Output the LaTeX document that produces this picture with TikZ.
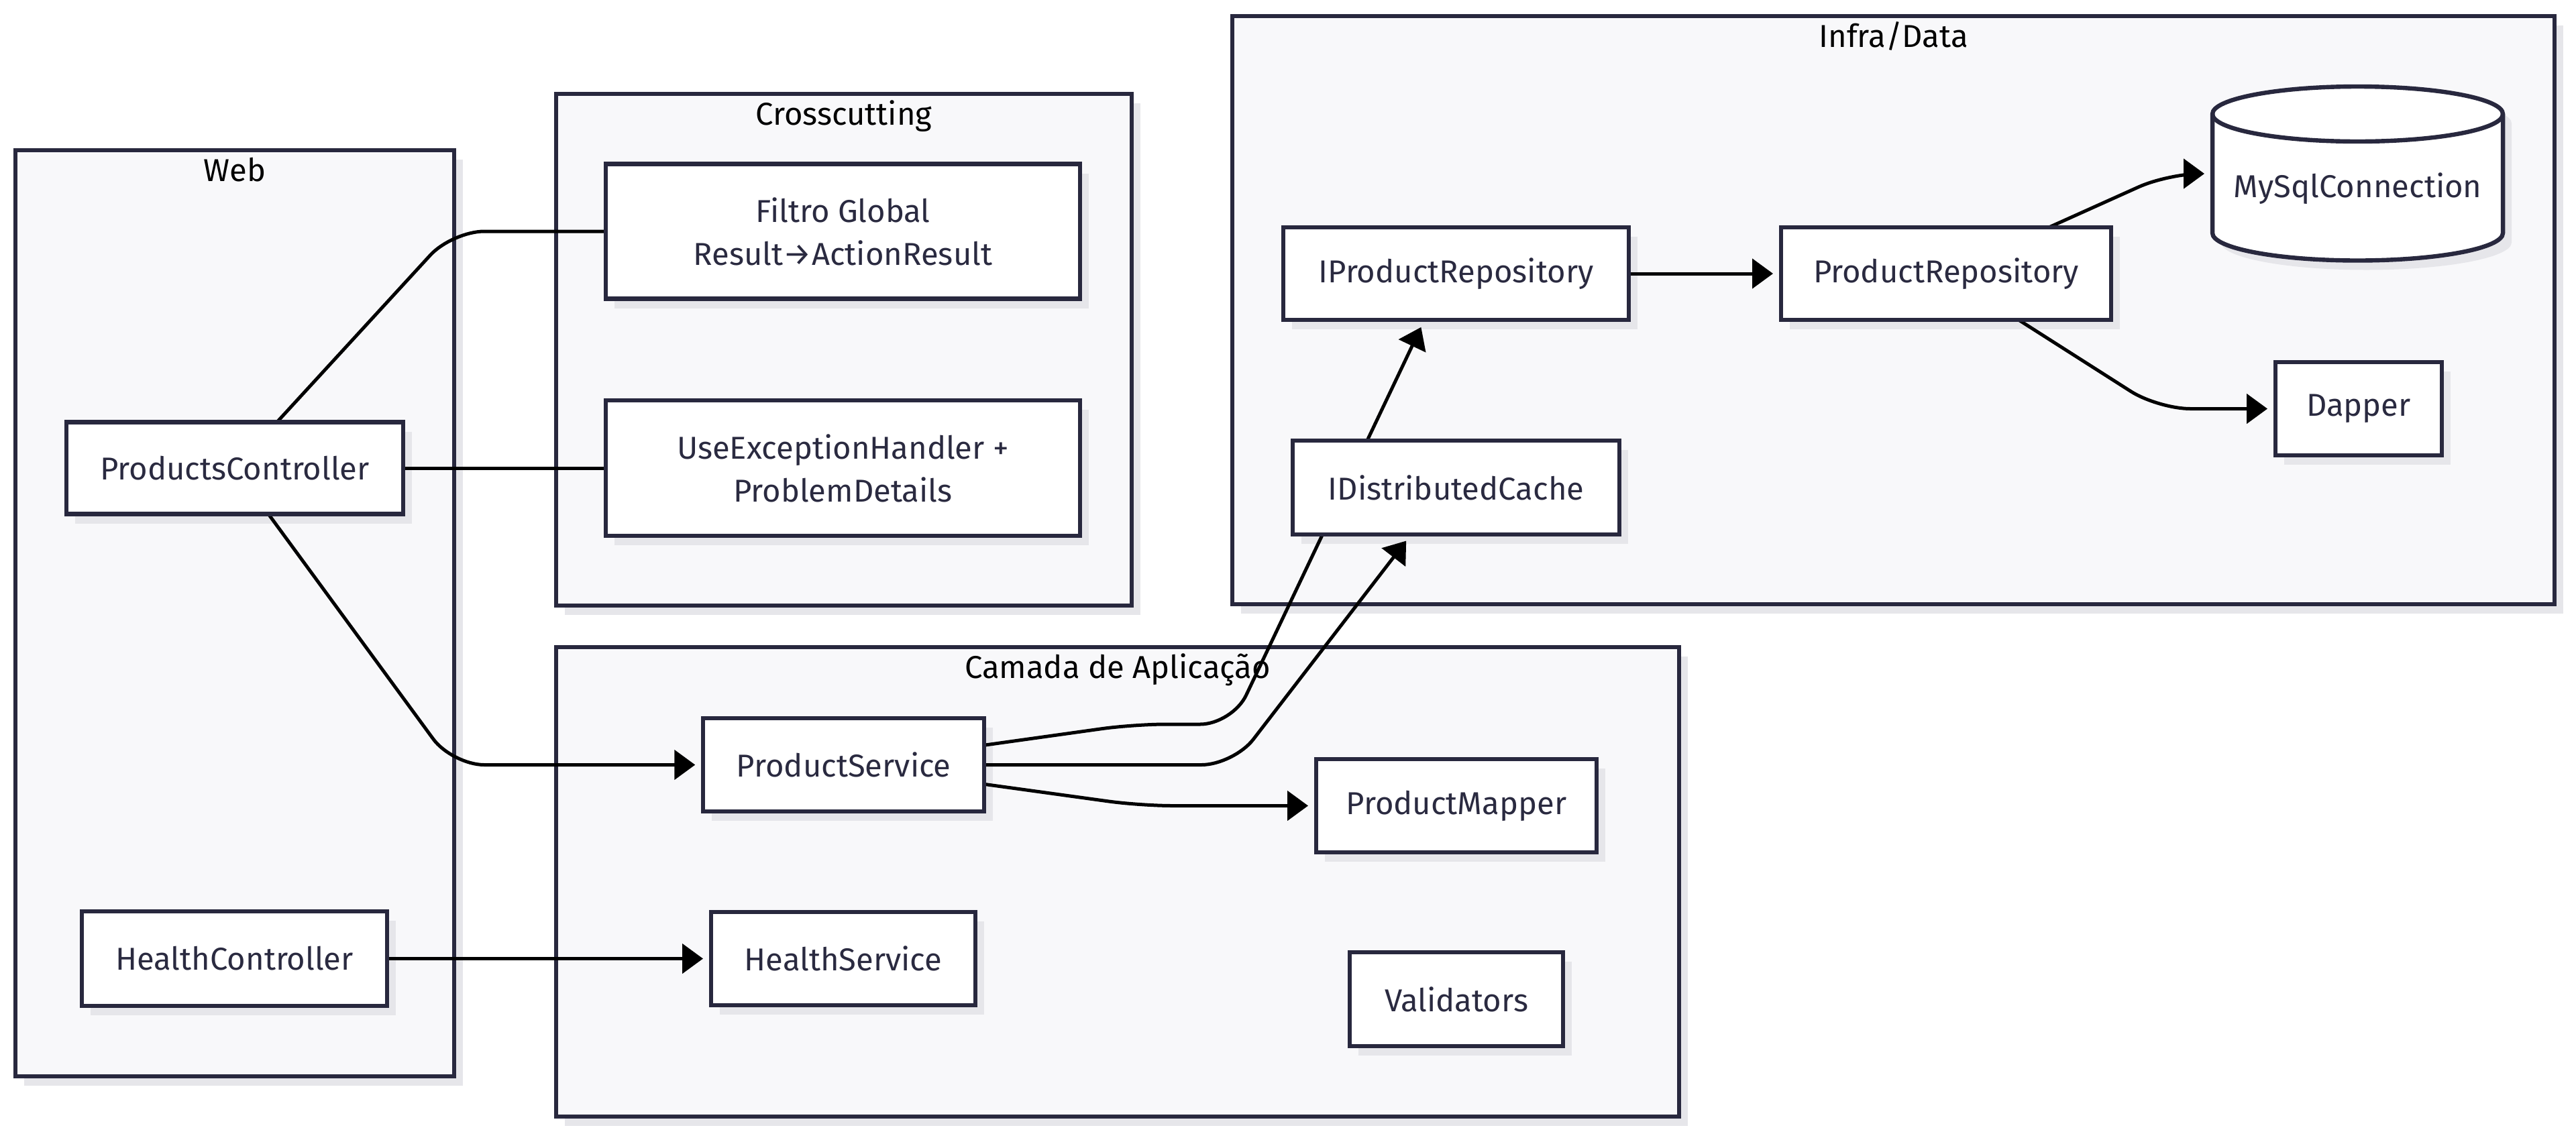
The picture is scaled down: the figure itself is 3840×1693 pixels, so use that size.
\documentclass[tikz,border=0pt]{standalone}
\usepackage{fontspec}
\setmainfont{Fira Sans}
\usetikzlibrary{shadows,arrows.meta,calc}
\definecolor{nodeborder}{HTML}{28283E}
\definecolor{nodetext}{HTML}{2A2A40}
\definecolor{clusterfill}{HTML}{F8F8FA}
\definecolor{shadowgray}{HTML}{E6E6EA}
\newlength\pxu \setlength\pxu{0.25pt}
\pgfdeclarelayer{bg}\pgfdeclarelayer{shadowlayer}\pgfdeclarelayer{edges}
\pgfsetlayers{bg,shadowlayer,edges,main}
\tikzset{
 myshadow/.style={drop shadow={shadow xshift=3.25pt, shadow yshift=-3.5pt, fill=shadowgray, opacity=1}},
 box/.style={draw=nodeborder, line width=1.6pt, fill=white, text=nodetext, align=center, inner sep=0pt, outer sep=0pt, minimum height=139\pxu, font=\fontsize{11.8}{16}\selectfont},
 cluster/.style={draw=nodeborder, line width=1.3pt, fill=clusterfill, inner sep=0pt, myshadow},
 ctitle/.style={anchor=base, font=\fontsize{11.8}{16}\selectfont, text=black},
 conn/.style={line width=1.25pt, black, rounded corners=12pt},
 arr/.style={conn, -{Triangle[length=7.75pt,width=11pt]}, shorten >=3pt},
}
\begin{document}
\begin{tikzpicture}[x=0.25pt,y=-0.25pt]
\useasboundingbox (0,0) rectangle (3840,1693);
\begin{pgfonlayer}{bg}
\fill[white] (0,0) rectangle (3840,1693);
\node[cluster, minimum width=654\pxu, minimum height=1381\pxu] (web) at (350,914.5) {};
\node[cluster, minimum width=858\pxu, minimum height=763\pxu] (cross) at (1258,521.5) {};
\node[cluster, minimum width=1971\pxu, minimum height=877\pxu] (infra) at (2822.5,462.5) {};
\node[cluster, minimum width=1674\pxu, minimum height=700\pxu] (app) at (1666,1315) {};
\node[ctitle] (webT) at ($(web.north)+(0,49)$) {Web};
\node[ctitle] (crossT) at ($(cross.north)+(0,49)$) {Crosscutting};
\node[ctitle] (infraT) at ($(infra.north)+(0,49)$) {Infra/Data};
\node[ctitle] (appT) at ($(app.north)+(0,49)$) {Camada de Aplicação};
\end{pgfonlayer}

\node[box, minimum width=502\pxu, minimum height=137\pxu] (pc) at (350,698) {ProductsController};
\node[box, minimum width=455\pxu, minimum height=141\pxu] (hc) at (349.5,1429.5) {HealthController};
\node[box, minimum width=707\pxu, minimum height=201\pxu] (filtro) at (1256.5,345) {Filtro Global\\Result→ActionResult};
\node[box, minimum width=707\pxu, minimum height=202\pxu] (ueh) at (1256.5,698) {UseExceptionHandler +\\ProblemDetails};
\node[box, minimum width=515\pxu, minimum height=138\pxu] (ipr) at (2170.5,408) {IProductRepository};
\node[box, minimum width=492\pxu, minimum height=138\pxu] (pr) at (2901,408) {ProductRepository};
\node[box, minimum width=248\pxu] (dapper) at (3516,609.5) {Dapper};
\node[box, minimum width=487\pxu, minimum height=140\pxu] (idc) at (2170.5,727) {IDistributedCache};
\node[box, minimum width=419\pxu] (ps) at (1257.75,1140.5) {ProductService};
\node[box, minimum width=418\pxu] (pm) at (2171,1201.5) {ProductMapper};
\node[box, minimum width=394\pxu] (hs) at (1257,1429.5) {HealthService};
\node[box, minimum width=318\pxu, minimum height=140\pxu] (val) at (2171,1490) {Validators};

% node shadows, under the connectors
\begin{pgfonlayer}{shadowlayer}
\foreach \n in {pc,hc,filtro,ueh,ipr,pr,dapper,idc,ps,pm,hs,val}
  \fill[shadowgray] ([shift={(13,14)}]\n.south west) rectangle ([shift={(13,14)}]\n.north east);
\fill[shadowgray] (3311,184) -- (3311,361.5) arc[start angle=180,end angle=360,x radius=54.125pt,y radius=10.25pt] -- (3744,184) arc[start angle=0,end angle=180,x radius=54.125pt,y radius=10.25pt] -- cycle;
\end{pgfonlayer}

% cylinder MySqlConnection
\node[inner sep=0pt, outer sep=0pt, minimum width=433\pxu, minimum height=259\pxu] (mysql) at (3514.5,259) {};
\filldraw[fill=white, draw=nodeborder, line width=1.6pt] (3298,170) -- (3298,347.5) arc[start angle=180,end angle=360,x radius=54.125pt,y radius=10.25pt] -- (3731,170) arc[start angle=0,end angle=180,x radius=54.125pt,y radius=10.25pt] -- cycle;
\draw[nodeborder, line width=1.6pt] (3298,170) arc[start angle=180,end angle=360,x radius=54.125pt,y radius=10.25pt];
\node[text=nodetext, font=\fontsize{11.8}{16}\selectfont] (mysqltext) at (3514.5,281) {MySqlConnection};

\begin{pgfonlayer}{edges}
\draw[conn] (pc) -- (674,345) -- (filtro);
\draw[conn] (pc) -- (ueh);
\draw[arr] (pc) -- (674,1140.5) -- (ps);
\draw[arr] (hc) -- (hs);
\draw[arr] (ps) -- (1690,1080) -- (1837,1080) -- ($(ipr.south)+(-47,0)$);
\draw[arr] (ps) -- (1839,1140.5) -- ($(idc.south)+(-67,0)$);
\draw[arr] (ps) -- (1700,1201.5) -- (pm);
\draw[arr] (ipr) -- (pr);
\draw[arr] (pr) -- (3232,259) -- (mysql);
\draw[arr] (pr) -- (3217,609.5) -- (dapper);
\end{pgfonlayer}
\end{tikzpicture}
\end{document}
